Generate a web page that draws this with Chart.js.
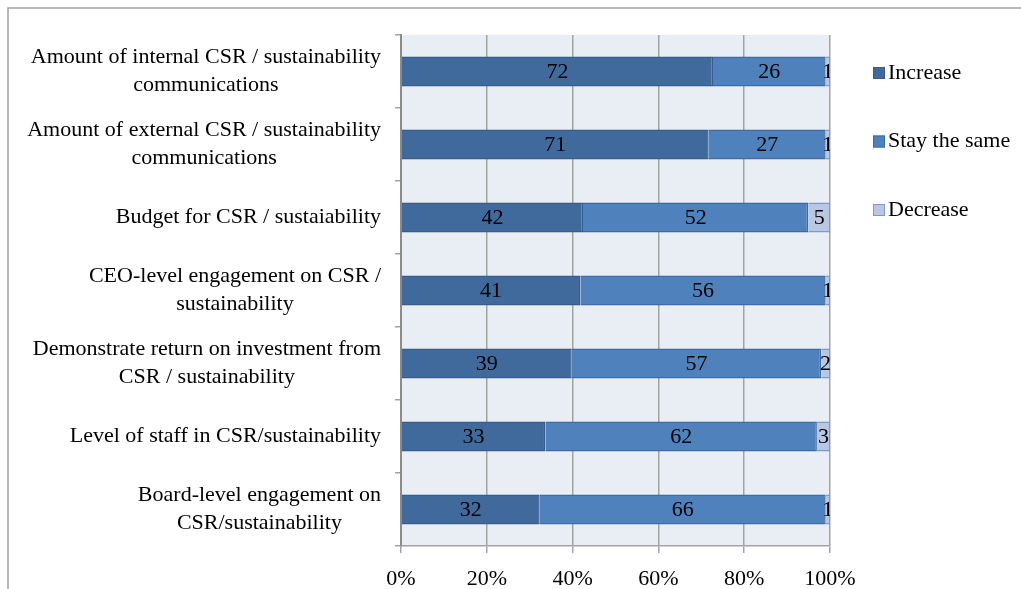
<!DOCTYPE html>
<html>
<head>
<meta charset="utf-8">
<script src="https://cdn.jsdelivr.net/npm/chart.js"></script>
<style>
  body{margin:0;background:#fff;}
  canvas{display:block;}
</style>
</head>
<body>
<canvas id="myChart" width="1021" height="589"></canvas>
<script>
// data
let categories = [
    ['Amount of internal CSR / sustainability', 'communications'],
    ['Amount of external CSR / sustainability', 'communications'],
    ['Budget for CSR / sustaiability'],
    ['CEO-level engagement on CSR /', 'sustainability'],
    ['Demonstrate return on investment from', 'CSR / sustainability'],
    ['Level of staff in CSR/sustainability'],
    ['Board-level engagement on', 'CSR/sustainability']
];
let increase = [72, 71, 42, 41, 39, 33, 32];
let staySame = [26, 27, 52, 56, 57, 62, 66];
let decrease = [1, 1, 5, 1, 2, 3, 1];
let seriesNames = ['Increase', 'Stay the same', 'Decrease'];
let xTicks = [0, 20, 40, 60, 80, 100];

const FONT = '"Liberation Serif", "Times New Roman", serif';
const SIZE = 22;
const GREY = '#a3a3a3';

// 100% stacked: share of each row's total
function share(arr){
    return arr.map((v, i)=> v / (increase[i] + staySame[i] + decrease[i]) * 100);
}
let raw = [increase, staySame, decrease];

let outerFrame = {
    id: 'outerFrame',
    beforeDraw(chart){
        let c = chart.ctx;
        let a = chart.chartArea;
        c.save();
        c.strokeStyle = GREY;
        c.lineWidth = 1.5;
        c.beginPath();
        c.moveTo(8, chart.height);
        c.lineTo(8, 8);
        c.lineTo(chart.width, 8);
        c.stroke();
        c.fillStyle = '#e9edf4';
        c.fillRect(a.left, a.top, a.right - a.left, a.bottom - a.top);
        c.restore();
    }
};

let barLabels = {
    id: 'barLabels',
    afterDatasetsDraw(chart){
        let c = chart.ctx;
        let a = chart.chartArea;
        c.save();
        c.beginPath();
        c.rect(a.left, a.top, a.right - a.left, a.bottom - a.top);
        c.clip();
        c.font = SIZE + 'px ' + FONT;
        c.fillStyle = '#000';
        c.textAlign = 'center';
        c.textBaseline = 'middle';
        chart.data.datasets.forEach((ds, d)=>{
            chart.getDatasetMeta(d).data.forEach((bar, i)=>{
                c.fillText(String(raw[d][i]), (bar.x + bar.base) / 2, bar.y + 1);
            })
        })
        c.restore();
    }
};

let categoryLabels = {
    id: 'categoryLabels',
    afterDraw(chart){
        let c = chart.ctx;
        let y = chart.scales.y;
        let right = y.right - 20;
        c.save();
        c.font = SIZE + 'px ' + FONT;
        c.fillStyle = '#000';
        c.textAlign = 'center';
        c.textBaseline = 'middle';
        categories.forEach((lines, i)=>{
            let w = Math.max(...lines.map((l)=> c.measureText(l).width));
            let cx = right - w / 2;
            let cy = y.getPixelForValue(i);
            let lh = 28;
            lines.forEach((l, k)=>{
                c.fillText(l, cx, cy + (k - (lines.length - 1) / 2) * lh);
            })
        })
        c.restore();
    }
};

let sideLegend = {
    id: 'sideLegend',
    afterDraw(chart){
        let c = chart.ctx;
        c.save();
        c.font = SIZE + 'px ' + FONT;
        c.textBaseline = 'middle';
        c.textAlign = 'left';
        chart.data.datasets.forEach((ds, d)=>{
            let top = 67 + d * 68.5;
            c.fillStyle = ds.backgroundColor;
            c.fillRect(873, top, 12, 12);
            c.strokeStyle = ds.borderColor;
            c.lineWidth = 1;
            c.strokeRect(873.5, top + 0.5, 11, 11);
            c.fillStyle = '#000';
            c.fillText(ds.label, 888, top + 6);
        })
        c.restore();
    }
};

let ctx = document.getElementById('myChart').getContext('2d');
let myChart = new Chart(ctx, {
    type: 'bar',
    data: {
        labels: categories.map((l)=> l.join(' ')),
        datasets: [
            {
                label: seriesNames[0],
                data: share(increase),
                backgroundColor: '#40699c',
                borderColor: '#365d8c',
                borderWidth: 1.5
            },
            {
                label: seriesNames[1],
                data: share(staySame),
                backgroundColor: '#4f81bd',
                borderColor: '#3d6ca3',
                borderWidth: 1.5
            },
            {
                label: seriesNames[2],
                data: share(decrease),
                backgroundColor: '#b9c7e1',
                borderColor: '#7d9bc8',
                borderWidth: 1.5
            }
        ]
    },
    options: {
        responsive: false,
        animation: false,
        indexAxis: 'y',
        categoryPercentage: 1,
        barPercentage: 0.41,
        layout: {
            padding: {left: 0, top: 35, right: 191, bottom: 0}
        },
        plugins: {
            legend: {display: false},
            tooltip: {enabled: false}
        },
        scales: {
            x: {
                stacked: true,
                min: 0,
                max: 100,
                afterBuildTicks(scale){
                    scale.ticks = xTicks.map((v)=> ({value: v}));
                },
                afterFit(scale){
                    scale.height = 43;
                },
                grid: {
                    color: GREY,
                    lineWidth: 1.5,
                    tickLength: 7
                },
                border: {display: true, color: GREY, width: 1.5},
                ticks: {
                    color: '#000',
                    padding: 13,
                    font: {family: FONT, size: SIZE},
                    callback: (v)=> v + '%'
                }
            },
            y: {
                stacked: true,
                afterFit(scale){
                    scale.width = 401;
                },
                grid: {
                    drawOnChartArea: false,
                    color: GREY,
                    lineWidth: 1.5,
                    tickLength: 6
                },
                border: {display: true, color: '#8c8c8c', width: 2},
                ticks: {display: false}
            }
        }
    },
    plugins: [outerFrame, barLabels, categoryLabels, sideLegend]
});
</script>
</body>
</html>
